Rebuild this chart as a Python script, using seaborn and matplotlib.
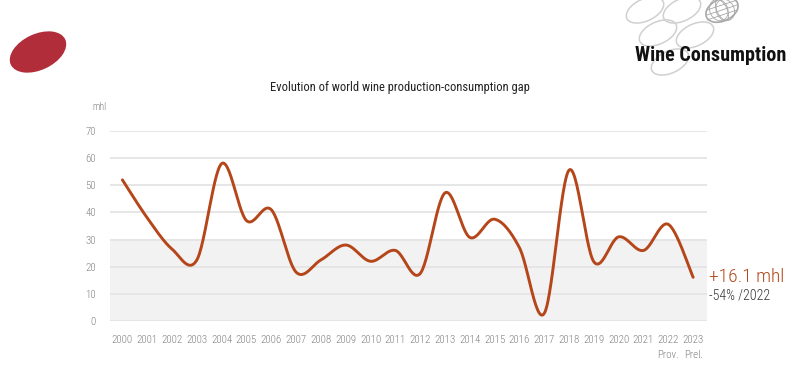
import numpy as np
import pandas as pd
import matplotlib
matplotlib.use("Agg")
import matplotlib.pyplot as plt
from matplotlib import font_manager
from matplotlib.patches import Ellipse
import seaborn as sns

years = list(range(2000, 2024))
gap = [52.0, 38.0, 26.5, 22.5, 58.0, 37.0, 41.0, 18.0, 22.5, 28.0, 22.0, 26.0,
       17.5, 47.2, 30.8, 37.5, 27.0, 2.8, 55.6, 21.8, 31.0, 26.0, 35.6, 16.1]
tick_labels = [str(y) for y in years[:-2]] + ["2022\nProv.", "2023\nPrel."]
y_ticks = [0, 10, 20, 30, 40, 50, 60, 70]

sns.set_theme(style="white")
names = {f.name for f in font_manager.fontManager.ttflist}


def pick(cands):
    for c in cands:
        if c in names:
            return c
    return "DejaVu Sans"


COND = pick(["Roboto Condensed", "Barlow Condensed", "Asap Condensed", "Oswald", "DejaVu Sans Condensed"])
BOLD = pick(["Roboto Condensed", "Barlow Condensed", "Asap Condensed", "Oswald"])
plt.rcParams["font.family"] = [COND, "DejaVu Sans"]

LINE = "#b5461a"
GRID = "#e4e4e4"
TXT = "#808080"

fig = plt.figure(figsize=(8, 3.74), dpi=100)
ax = fig.add_axes([0.1375, 0.1417, 0.7463, 0.508])

# smooth (Catmull-Rom / Excel-style) curve through the data points
x = np.array(years, dtype=float)
y = np.array(gap, dtype=float)
xs, ys = [], []
t = np.linspace(0, 1, 30)
for i in range(len(x) - 1):
    p0 = np.array([x[max(i - 1, 0)], y[max(i - 1, 0)]])
    p1 = np.array([x[i], y[i]])
    p2 = np.array([x[i + 1], y[i + 1]])
    p3 = np.array([x[min(i + 2, len(x) - 1)], y[min(i + 2, len(x) - 1)]])
    c1 = p1 + (p2 - p0) / 6
    c2 = p2 - (p3 - p1) / 6
    pts = ((1 - t) ** 3)[:, None] * p1 + (3 * (1 - t) ** 2 * t)[:, None] * c1 \
        + (3 * (1 - t) * t ** 2)[:, None] * c2 + (t ** 3)[:, None] * p2
    xs.extend(pts[:, 0]); ys.extend(pts[:, 1])
curve = pd.DataFrame({"x": xs, "y": ys})

ax.axhspan(0, 30, color="#f2f2f2", zorder=0, lw=0)
for v in y_ticks:
    ax.axhline(v, color=GRID, lw=1.3, zorder=1)
sns.lineplot(data=curve, x="x", y="y", ax=ax, color=LINE, lw=2.1, sort=False,
             estimator=None, zorder=3)

ax.set_xlim(1999.5, 2023.56)
ax.set_ylim(0, 70)
ax.set_xticks(years)
ax.set_xticklabels(tick_labels, fontsize=7.8, color=TXT, va="top", linespacing=1.6,
                   fontweight="light")
ax.set_yticks(y_ticks)
ax.set_yticklabels([str(v) for v in y_ticks], fontsize=7.8, color=TXT, fontweight="light")
ax.tick_params(axis="x", length=0, pad=10)
ax.tick_params(axis="y", length=0, pad=10)
ax.set_xlabel(""); ax.set_ylabel("")
for s in ax.spines.values():
    s.set_visible(False)

fig.text(92 / 800, 1 - 107 / 374, "mhl", fontsize=7, color=TXT, ha="left", va="center",
         fontweight="light")
fig.text(400 / 800, 1 - 88 / 374, "Evolution of world wine production-consumption gap",
         fontsize=9, color="#222222", ha="center", va="center")

fig.text(709 / 800, 1 - 277 / 374, "+16.1 mhl", fontsize=14, color=LINE, ha="left", va="center",
         fontweight="light")
fig.text(709 / 800, 1 - 296 / 374, "-54% /2022", fontsize=10, color="#333333", ha="left", va="center",
         fontweight="light")

# decorative header: red ellipse and grape logo
ov = fig.add_axes([0, 0, 1, 1], zorder=-1)
ov.set_xlim(0, 800); ov.set_ylim(374, 0); ov.axis("off")
ov.add_patch(Ellipse((38, 52), 60, 36, angle=-25, color="#b22d3a", lw=0))
for (cx, cy, w, h) in [(645, 10, 40, 22), (682, 10, 40, 22), (658, 33, 40, 22),
                       (695, 35, 40, 22), (670, 62, 40, 22)]:
    ov.add_patch(Ellipse((cx, cy), w, h, angle=-25, fill=False, ec="#d0d0d0", lw=1.1))
ov.add_patch(Ellipse((722, 10), 34, 22, angle=-25, fill=False, ec="#a8a8a8", lw=1.2))
for dx in (-8, 0, 8):
    ov.add_patch(Ellipse((722 + dx * 0.4, 10), 10 + abs(dx), 22, angle=-25, fill=False, ec="#a8a8a8", lw=0.6))
for dy in (-5, 0, 5):
    ov.plot([707, 737], [10 + dy + 5, 10 + dy - 5], color="#a8a8a8", lw=0.6)
ov.text(711, 55, "Wine Consumption", fontsize=14.5, fontweight="bold", color="#111111",
        ha="center", va="center", family=[BOLD, "DejaVu Sans"])

fig.savefig("out.png", dpi=100)
